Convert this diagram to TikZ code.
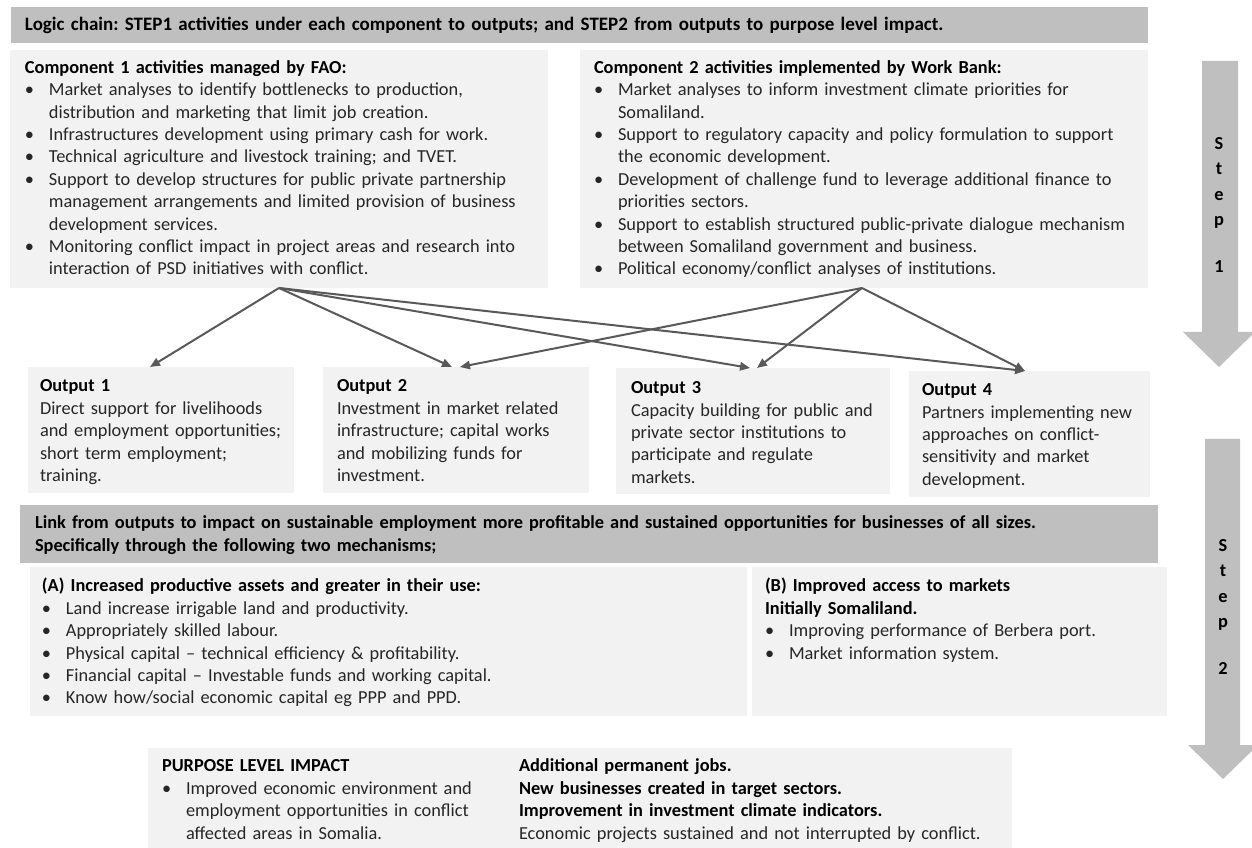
\documentclass[tikz,border=0pt]{standalone}
\usepackage{fontspec}
\setmainfont{Carlito}
\usetikzlibrary{fit,arrows.meta}
\definecolor{barc}{HTML}{BFBFBF}
\definecolor{panec}{HTML}{F2F2F2}
\definecolor{connc}{HTML}{595959}
\definecolor{bodyc}{HTML}{262626}
\frenchspacing
\newcommand{\hd}[1]{\textcolor{black}{\textbf{#1}}}
\newcommand{\bl}{\par\hangindent=14.4pt\hangafter=1\noindent\makebox[14.4pt][l]{•}}
\tikzset{
  pane/.style={fill=panec, draw=none, inner sep=0pt, outer sep=0pt},
  barbox/.style={fill=barc, draw=none, inner sep=0pt, outer sep=0pt},
  txt/.style={anchor=north west, inner sep=0pt, outer sep=0pt, align=left, text width=#1,
    font=\fontsize{11}{13.44}\selectfont\frenchspacing, text=bodyc},
  conn/.style={draw=connc, line width=1.2pt, -{Triangle[length=6pt,width=5pt]}},
  steparrow/.style={fill=barc, draw=none},
  steptxt/.style={align=center, inner sep=0pt, font=\fontsize{11}{15.2}\selectfont\bfseries}
}
\begin{document}
\begin{tikzpicture}[x=0.6pt, y=-0.6pt]
\path[use as bounding box] (0,0) rectangle (1252,848);

% boxes
\node[barbox, fit={(11,7) (1148,43)}] (title) {};
\node[pane, fit={(10,50) (548,288)}] (c1) {};
\node[pane, fit={(580,50) (1148,288)}] (c2) {};
\node[pane, fit={(28,367) (294,493)}] (o1) {};
\node[pane, fit={(323,367) (589,493)}] (o2) {};
\node[pane, fit={(616,368) (890,494)}] (o3) {};
\node[pane, fit={(909,371) (1150,497)}] (o4) {};
\node[barbox, fit={(20,505) (1158,563)}] (link) {};
\node[pane, fit={(30,567) (747,716)}] (ma) {};
\node[pane, fit={(752,567) (1167,716)}] (mb) {};
\node[pane, fit={(148,748) (1012,848)}] (imp) {};

% step arrows
\fill[steparrow] (1202,61) -- (1238,61) -- (1238,332) -- (1255,332) -- (1219,367) -- (1183,332) -- (1202,332) -- cycle;
\fill[steparrow] (1205,439) -- (1240,439) -- (1240,745) -- (1258,745) -- (1223,779) -- (1188,745) -- (1205,745) -- cycle;
\node[steptxt] (s1) at (1219,205) {S\\t\\e\\p\\[13pt]1};
\node[steptxt] (s2) at (1223,607) {S\\t\\e\\p\\[13pt]2};

% texts
\node[txt=700pt, font=\fontsize{11.4}{13.44}\selectfont] (titletxt) at (25,14.5) {\strut\hd{Logic chain: STEP1 activities under each component to outputs; and STEP2 from outputs to purpose level impact.}};

\node[txt=320pt] (c1txt) at (25,57.6) {\strut\hd{Component 1 activities managed by FAO:}
\bl Market analyses to identify bottlenecks to production,\newline distribution and marketing that limit job creation.
\bl Infrastructures development using primary cash for work.
\bl Technical agriculture and livestock training; and TVET.
\bl Support to develop structures for public private partnership\newline management arrangements and limited provision of business\newline development services.
\bl Monitoring conflict impact in project areas and research into\newline interaction of PSD initiatives with conflict.\par};

\node[txt=330pt] (c2txt) at (594,57.6) {\strut\hd{Component 2 activities implemented by Work Bank:}
\bl Market analyses to inform investment climate priorities for\newline Somaliland.
\bl Support to regulatory capacity and policy formulation to support\newline the economic development.
\bl Development of challenge fund to leverage additional finance to\newline priorities sectors.
\bl Support to establish structured public-private dialogue mechanism\newline between Somaliland government and business.
\bl Political economy/conflict analyses of institutions.\par};

\node[txt=160pt] (o1txt) at (40,376.3) {\strut\hd{Output 1}\\Direct support for livelihoods\\and employment opportunities;\\short term employment;\\training.};
\node[txt=160pt] (o2txt) at (337,376.3) {\strut\hd{Output 2}\\Investment in market related\\infrastructure; capital works\\and mobilizing funds for\\investment.};
\node[txt=160pt] (o3txt) at (631,378) {\strut\hd{Output 3}\\Capacity building for public and\\private sector institutions to\\participate and regulate\\markets.};
\node[txt=140pt] (o4txt) at (922,380) {\strut\hd{Output 4}\\Partners implementing new\\approaches on conflict-\\sensitivity and market\\development.};

\node[txt=700pt] (linktxt) at (35,513) {\strut\hd{Link from outputs to impact on sustainable employment more profitable and sustained opportunities for businesses of all sizes.}\\\hd{Specifically through the following two mechanisms;}};

\node[txt=420pt] (matxt) at (42,576.3) {\strut\hd{(A) Increased productive assets and greater in their use:}
\bl Land increase irrigable land and productivity.
\bl Appropriately skilled labour.
\bl Physical capital – technical efficiency \& profitability.
\bl Financial capital – Investable funds and working capital.
\bl Know how/social economic capital eg PPP and PPD.\par};

\node[txt=240pt] (mbtxt) at (765,576.3) {\strut\hd{(B) Improved access to markets}\\\hd{Initially Somaliland.}
\bl Improving performance of Berbera port.
\bl Market information system.\par};

\node[txt=210pt] (imptxt) at (162,756.3) {\strut\hd{PURPOSE LEVEL IMPACT}
\bl Improved economic environment and\newline employment opportunities in conflict\newline affected areas in Somalia.\par};
\node[txt=300pt] (imptxt2) at (519,756.3) {\strut\hd{Additional permanent jobs.}\\\hd{New businesses created in target sectors.}\\\hd{Improvement in investment climate indicators.}\\Economic projects sustained and not interrupted by conflict.};

% connectors
\draw[conn] (c1.south) -- ([xshift=-6.6pt]o1.north);
\draw[conn] (c1.south) -- ([xshift=-2.4pt]o2.north);
\draw[conn] (c1.south) -- ([xshift=-1.8pt]o3.north);
\draw[conn] (c1.south) -- ([xshift=-2.7pt]o4.north);
\draw[conn] ([xshift=-1.2pt]c2.south) -- ([xshift=2.4pt]o2.north);
\draw[conn] ([xshift=-1.2pt]c2.south) -- ([xshift=2.4pt]o3.north);
\draw[conn] ([xshift=-1.2pt]c2.south) -- ([xshift=-2.7pt]o4.north);
\end{tikzpicture}
\end{document}
